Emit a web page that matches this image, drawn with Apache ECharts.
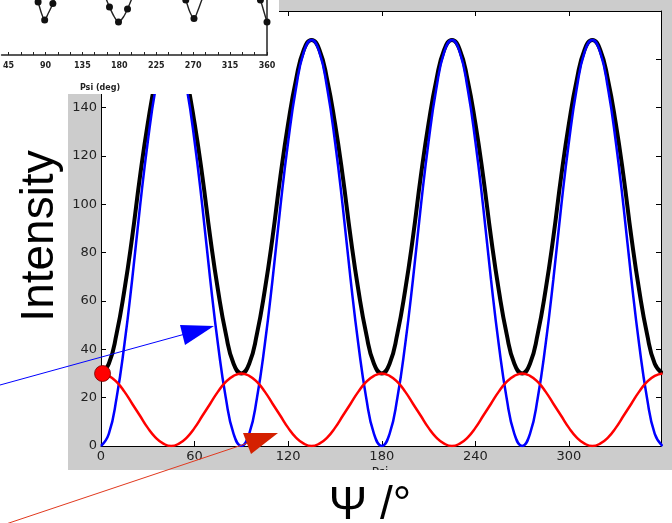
<!DOCTYPE html>
<html>
<head>
<meta charset="utf-8">
<script src="https://cdn.jsdelivr.net/npm/echarts@6/dist/echarts.min.js"></script>
<style>
  html, body { margin: 0; padding: 0; background: #fff; }
  #chart { width: 672px; height: 523px; }
</style>
</head>
<body>
<div id="chart"></div>
<script>
// main plot: angle psi (deg) and the three intensity curves
const psi = [0, 5, 10, 15, 20, 25, 30, 35, 40, 45, 50, 55, 60, 65, 70, 75, 80, 85,
  90, 95, 100, 105, 110, 115, 120, 125, 130, 135, 140, 145, 150, 155, 160, 165, 170, 175,
  180, 185, 190, 195, 200, 205, 210, 215, 220, 225, 230, 235, 240, 245, 250, 255, 260, 265,
  270, 275, 280, 285, 290, 295, 300, 305, 310, 315, 320, 325, 330, 335, 340, 345, 350, 355,
  360];
const blueVals = [0, 5, 20, 42, 69, 99, 126, 148, 163, 168, 163, 148, 126, 99, 69, 42, 20, 5,
  0, 5, 20, 42, 69, 99, 126, 148, 163, 168, 163, 148, 126, 99, 69, 42, 20, 5,
  0, 5, 20, 42, 69, 99, 126, 148, 163, 168, 163, 148, 126, 99, 69, 42, 20, 5,
  0, 5, 20, 42, 69, 99, 126, 148, 163, 168, 163, 148, 126, 99, 69, 42, 20, 5,
  0];
const redVals = [30, 29, 26.5, 22.5, 17.5, 12.5, 7.5, 3.5, 1, 0, 1, 3.5, 7.5, 12.5, 17.5, 22.5, 26.5, 29,
  30, 29, 26.5, 22.5, 17.5, 12.5, 7.5, 3.5, 1, 0, 1, 3.5, 7.5, 12.5, 17.5, 22.5, 26.5, 29,
  30, 29, 26.5, 22.5, 17.5, 12.5, 7.5, 3.5, 1, 0, 1, 3.5, 7.5, 12.5, 17.5, 22.5, 26.5, 29,
  30, 29, 26.5, 22.5, 17.5, 12.5, 7.5, 3.5, 1, 0, 1, 3.5, 7.5, 12.5, 17.5, 22.5, 26.5, 29,
  30];
const blackVals = [30, 34, 46.5, 64.5, 86.5, 111.5, 133.5, 151.5, 164, 168, 164, 151.5, 133.5, 111.5, 86.5, 64.5, 46.5, 34,
  30, 34, 46.5, 64.5, 86.5, 111.5, 133.5, 151.5, 164, 168, 164, 151.5, 133.5, 111.5, 86.5, 64.5, 46.5, 34,
  30, 34, 46.5, 64.5, 86.5, 111.5, 133.5, 151.5, 164, 168, 164, 151.5, 133.5, 111.5, 86.5, 64.5, 46.5, 34,
  30, 34, 46.5, 64.5, 86.5, 111.5, 133.5, 151.5, 164, 168, 164, 151.5, 133.5, 111.5, 86.5, 64.5, 46.5, 34,
  30];
const markerPsi = [1];
const markerVal = [30];

// scanned inset at top left (measured curve and dots)
const insetTicks = [45, 90, 135, 180, 225, 270, 315, 360];
const insetMinor = [45, 60, 75, 90, 105, 120, 135, 150, 165, 180, 195, 210, 225, 240, 255, 270, 285, 300, 315, 330, 345, 360];
const insetPsi = [77, 81, 85, 89, 93, 99, 103, null, 163, 168, 174, 179, 185, 190, 196, null,
  257, 261, 266, 271, 276, 281, 285, null, 348, 352, 356, 360];
const insetVal = [62, 53, 42, 35, 41, 51.5, 62, null, 58, 48, 38, 33, 38, 46, 58, null,
  62, 55, 43, 36.5, 45, 56, 62, null, 62, 55, 44, 33];
const insetDotPsi = [81, 89, 99, 168, 179, 190, 261, 271, 352, 360];
const insetDotVal = [53, 35, 51.5, 48, 33, 46, 55, 36.5, 55, 33];

const chart = echarts.init(document.getElementById('chart'));

const tickStyle = { inside: true, length: 5, lineStyle: { color: '#000', width: 1 } };
const lineStyle = { onZero: false, lineStyle: { color: '#000', width: 1 } };
const labelStyle = { fontFamily: 'DejaVu Sans', fontSize: 13, color: '#222' };

const pair = (xs, ys) => xs.map((x, i) => [x, ys[i]]);

chart.setOption({
  animation: false,
  backgroundColor: '#cccccc',
  grid: [
    { left: 101, top: 11, width: 560, height: 435, show: true, backgroundColor: '#fff', borderWidth: 0 },
    { left: 0, top: 0, width: 267, height: 55, show: false }
  ],
  xAxis: [
    {
      type: 'value', gridIndex: 0, min: 0, max: 359, interval: 60,
      axisLine: lineStyle, axisTick: tickStyle, splitLine: { show: false },
      axisLabel: Object.assign({ margin: 4, showMaxLabel: false }, labelStyle)
    },
    {
      type: 'value', gridIndex: 0, position: 'top', min: 0, max: 359, interval: 60,
      axisLine: lineStyle, axisTick: tickStyle, splitLine: { show: false },
      axisLabel: { show: false }
    },
    {
      type: 'value', gridIndex: 1, min: 36.5, max: 360, z: 11,
      axisLine: { onZero: false, lineStyle: { color: '#222', width: 1.5 } },
      axisTick: { customValues: insetMinor, length: 3, inside: true, lineStyle: { color: '#222' } },
      splitLine: { show: false },
      axisLabel: { customValues: insetTicks, margin: 7, fontFamily: 'DejaVu Sans', fontSize: 8, fontWeight: 'bold', color: '#222' }
    }
  ],
  yAxis: [
    {
      type: 'value', gridIndex: 0, min: 0, max: 180, interval: 20,
      axisLine: lineStyle, axisTick: tickStyle, splitLine: { show: false },
      axisLabel: Object.assign({ margin: 4 }, labelStyle)
    },
    {
      type: 'value', gridIndex: 0, position: 'right', min: 0, max: 180, interval: 20,
      axisLine: lineStyle, axisTick: tickStyle, splitLine: { show: false },
      axisLabel: { show: false }
    },
    {
      type: 'value', gridIndex: 1, min: 0, max: 55, z: 11,
      axisLine: { show: false }, axisTick: { show: false },
      axisLabel: { show: false }, splitLine: { show: false }
    },
    {
      type: 'value', gridIndex: 1, position: 'right', min: 0, max: 55, z: 11,
      axisLine: { show: true, onZero: false, lineStyle: { color: '#222', width: 1.5 } }, axisTick: { show: false },
      axisLabel: { show: false }, splitLine: { show: false }
    }
  ],
  series: [
    {
      type: 'line', xAxisIndex: 0, yAxisIndex: 0, data: pair(psi, blackVals),
      smooth: true, showSymbol: false, z: 2,
      lineStyle: { color: '#000', width: 4 }
    },
    {
      type: 'line', xAxisIndex: 0, yAxisIndex: 0, data: pair(psi, blueVals),
      smooth: true, showSymbol: false, z: 3,
      lineStyle: { color: '#0000ff', width: 2.5 }
    },
    {
      type: 'line', xAxisIndex: 0, yAxisIndex: 0, data: pair(psi, redVals),
      smooth: true, showSymbol: false, z: 3,
      lineStyle: { color: '#ff0000', width: 2.5 }
    },
    {
      type: 'scatter', xAxisIndex: 0, yAxisIndex: 0, data: pair(markerPsi, markerVal),
      symbolSize: 16, z: 4,
      itemStyle: { color: '#ff0000', borderColor: '#700000', borderWidth: 0.8, opacity: 1 }
    },
    {
      type: 'line', xAxisIndex: 2, yAxisIndex: 2, z: 11,
      data: insetPsi.map((p, i) => p === null ? [0, '-'] : [p, insetVal[i]]),
      smooth: 0.3, showSymbol: false, connectNulls: false,
      lineStyle: { color: '#222', width: 1.4 }
    },
    {
      type: 'scatter', xAxisIndex: 2, yAxisIndex: 2, z: 12,
      data: pair(insetDotPsi, insetDotVal),
      symbolSize: 7, itemStyle: { color: '#111', opacity: 1 }
    }
  ],
  graphic: [
    // white areas around the gray figure and behind the inset
    { type: 'rect', z: 10, shape: { x: 0, y: 0, width: 68, height: 523 }, style: { fill: '#fff' } },
    { type: 'rect', z: 10, shape: { x: 0, y: 470, width: 672, height: 53 }, style: { fill: '#fff' } },
    { type: 'rect', z: 10, shape: { x: 0, y: 0, width: 279, height: 94 }, style: { fill: '#fff' } },
    { type: 'text', z: 9, x: 380, y: 467, style: { text: 'Psi', font: '12px "DejaVu Sans"', fill: '#222', textAlign: 'center', textVerticalAlign: 'top' } },
    { type: 'text', z: 11, x: 100, y: 88, style: { text: 'Psi (deg)', font: 'bold 8px "DejaVu Sans"', fill: '#222', textAlign: 'center', textVerticalAlign: 'middle' } },
    // axis titles
    { type: 'text', z: 12, x: 40, y: 236, rotation: Math.PI / 2,
      style: { text: 'Intensity', font: '46px "Liberation Sans"', fill: '#000', textAlign: 'center', textVerticalAlign: 'middle' } },
    { type: 'text', z: 12, x: 370, y: 506,
      style: { text: 'Ψ /°', font: '46px "Liberation Sans"', fill: '#000', textAlign: 'center', textVerticalAlign: 'middle' } },
    // annotation arrows
    { type: 'line', z: 15, shape: { x1: 0, y1: 385, x2: 196, y2: 331 }, style: { stroke: '#0000ff', lineWidth: 1 } },
    { type: 'polygon', z: 15, shape: { points: [[214, 326], [180, 325], [185, 345]] }, style: { fill: '#0000ff' } },
    { type: 'line', z: 15, shape: { x1: 0, y1: 526, x2: 248, y2: 443 }, style: { stroke: '#e0381e', lineWidth: 1 } },
    { type: 'polygon', z: 15, shape: { points: [[278, 433], [243, 433], [251, 454]] }, style: { fill: '#d42000' } }
  ]
});
</script>
</body>
</html>
